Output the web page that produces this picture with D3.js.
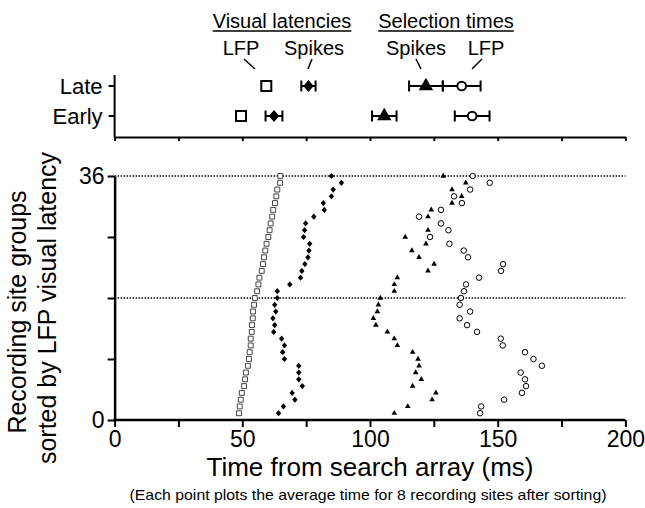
<!DOCTYPE html>
<html>
<head>
<meta charset="utf-8">
<script src="https://cdn.jsdelivr.net/npm/d3@7/dist/d3.min.js"></script>
<style>
body { margin: 0; background: #fff; }
text { font-family: "Liberation Sans", Arial, sans-serif; fill: #000; }
</style>
</head>
<body>
<svg></svg>
<script>
// recording site groups, 1 = bottom (earliest LFP latency), 36 = top
let groups = d3.range(1, 37)

// times in ms, one value per group
let lfpLatency = [48.7, 49.0, 49.4, 49.8, 50.7, 51.1, 51.4, 52.2, 52.6, 52.9, 53.3, 53.3,
                  53.7, 53.8, 54.1, 54.2, 54.6, 54.9, 55.8, 56.3, 56.7, 57.6, 58.1, 58.5,
                  59.0, 59.5, 60.2, 60.7, 61.1, 61.7, 62.1, 62.8, 63.3, 63.7, 64.8, 64.9]
let spikeLatency = [64.2, 66.1, 70.6, 69.5, 73.5, 72.1, 72.1, 72.1, 66.5, 65.8, 66.5, 65.4,
                    62.3, 62.7, 62.0, 63.1, 62.7, 63.7, 63.7, 68.6, 72.8, 73.3, 74.5, 75.7,
                    76.1, 76.4, 74.0, 74.4, 74.8, 78.0, 82.1, 81.7, 84.9, 85.6, 88.8, 84.9]
let spikeSelection = [109.5, 114.8, 124.3, 125.8, 116.7, 120.1, 117.9, 119.2, 118.8, 116.7, 110.7, 109.5,
                      106.8, 102.3, 101.3, 102.9, 103.3, 104.0, 109.5, 109.5, 110.7, 122.7, 125.1, 119.2,
                      116.4, 121.9, 113.8, 122.7, 127.7, 122.7, 124.0, 132.1, 135.9, 132.1, 137.5, 128.7]
let lfpSelection = [143.1, 143.5, 152.5, 159.5, 161.1, 160.7, 159.0, 167.3, 164.0, 160.7, 152.0, 151.2,
                    141.9, 138.0, 135.1, 139.2, 135.1, 135.6, 136.8, 137.6, 142.7, 151.3, 152.1, 138.4,
                    136.7, 131.1, 123.5, 130.7, 127.8, 119.2, 127.8, 136.0, 132.9, 139.2, 146.9, 140.2]

// summary panel: mean and error (ms) for late and early halves
let summaryRows = ['Late', 'Early']
let lfpLatMean = [59.4, 49.5]
let lfpLatErr = [1.0, 1.0]
let spikeLatMean = [75.9, 62.4]
let spikeLatErr = [2.8, 3.3]
let spikeSelMean = [121.9, 105.6]
let spikeSelErr = [6.6, 4.8]
let lfpSelMean = [135.9, 140.0]
let lfpSelErr = [7.4, 6.8]

let xTicks = d3.range(0, 201, 25)
let yTicks = [0, 9, 18, 27, 36]
let dottedLevels = [18, 36]

let width = 645
let height = 508

let svg = d3.select('svg').attr('width', width).attr('height', height)

let xScale = d3.scaleLinear().domain([0, 200]).range([114.6, 625.4])
let yScale = d3.scaleLinear().domain([0, 36]).range([420, 176])
let rowScale = d3.scalePoint().domain(summaryRows).range([86, 116])

// simple diamond shape (d3's diamond is too narrow)
let wideDiamond = {
    draw: (ctx, size) => {
        let r = Math.sqrt(size / 2)
        ctx.moveTo(0, -r * 1.1)
        ctx.lineTo(r * 0.95, 0)
        ctx.lineTo(0, r * 1.1)
        ctx.lineTo(-r * 0.95, 0)
        ctx.closePath()
    }
}

// ---------- main panel ----------
let mainAxes = () => {
    let xAxis = d3.axisBottom(xScale)
        .tickValues(xTicks)
        .tickFormat(d => d % 50 === 0 ? d : '')
        .tickSize(7)
        .tickSizeOuter(0)
        .tickPadding(4)
    let gx = svg.append('g')
        .attr('transform', 'translate(0,' + yScale(0) + ')')
        .call(xAxis)
    gx.select('.domain').attr('stroke-width', 2.5).attr('d', 'M' + (xScale(0) - 1.2) + ',0H' + xScale(200))
    gx.selectAll('.tick line').attr('stroke-width', 2)
    gx.selectAll('text').style('font-size', '23px').attr('fill', '#000')

    let yAxis = d3.axisLeft(yScale)
        .tickValues(yTicks)
        .tickFormat(d => (d === 0 || d === 36) ? d : '')
        .tickSize(7)
        .tickSizeOuter(0)
        .tickPadding(3)
    let gy = svg.append('g')
        .attr('transform', 'translate(' + xScale(0) + ',0)')
        .call(yAxis)
    gy.select('.domain').attr('stroke-width', 2.5)
    gy.selectAll('.tick line').attr('stroke-width', 2)
    gy.selectAll('text').style('font-size', '23px').attr('fill', '#000')
}

let drawDotted = () => {
    svg.selectAll('line.dotted')
        .data(dottedLevels)
        .enter()
        .append('line')
        .attr('class', 'dotted')
        .attr('x1', xScale(0))
        .attr('x2', xScale(200))
        .attr('y1', d => yScale(d))
        .attr('y2', d => yScale(d))
        .attr('stroke', '#000')
        .attr('stroke-width', 1.5)
        .attr('stroke-dasharray', '1.5,1.5')
}

let drawSeries = (values, type, size, fill, stroke, sw, cls) => {
    svg.selectAll('path.' + cls)
        .data(values)
        .enter()
        .append('path')
        .attr('class', cls)
        .attr('d', d3.symbol().type(type).size(size))
        .attr('transform', (d, i) => 'translate(' + xScale(d) + ',' + yScale(groups[i]) + ')')
        .attr('fill', fill)
        .attr('stroke', stroke)
        .attr('stroke-width', sw)
}

// ---------- summary panel ----------
let summaryPanel = () => {
    let top = 75
    let bottom = 137
    svg.append('line')
        .attr('x1', xScale(0)).attr('x2', xScale(0))
        .attr('y1', top).attr('y2', bottom)
        .attr('stroke', '#000').attr('stroke-width', 2)

    let xAxisTop = d3.axisBottom(xScale)
        .tickValues(xTicks)
        .tickFormat('')
        .tickSize(4)
        .tickSizeOuter(0)
    let gt = svg.append('g')
        .attr('transform', 'translate(0,' + bottom + ')')
        .call(xAxisTop)
    gt.select('.domain').attr('stroke-width', 2)
    gt.selectAll('.tick line').attr('stroke-width', 2)

    svg.selectAll('line.rowtick')
        .data(summaryRows)
        .enter()
        .append('line')
        .attr('class', 'rowtick')
        .attr('x1', xScale(0) - 6).attr('x2', xScale(0))
        .attr('y1', d => rowScale(d)).attr('y2', d => rowScale(d))
        .attr('stroke', '#000').attr('stroke-width', 2)

    svg.selectAll('text.rowlabel')
        .data(summaryRows)
        .enter()
        .append('text')
        .attr('class', 'rowlabel')
        .attr('x', xScale(0) - 12)
        .attr('y', d => rowScale(d) + 8)
        .attr('text-anchor', 'end')
        .style('font-size', '22px')
        .text(d => d)

    let sets = [
        { mean: lfpLatMean, err: lfpLatErr, type: d3.symbolSquare, size: 100, fill: '#fff', sw: 2 },
        { mean: spikeLatMean, err: spikeLatErr, type: wideDiamond, size: 60, fill: '#000', sw: 0 },
        { mean: spikeSelMean, err: spikeSelErr, type: d3.symbolTriangle, size: 90, fill: '#000', sw: 0 },
        { mean: lfpSelMean, err: lfpSelErr, type: d3.symbolCircle, size: 60, fill: '#fff', sw: 2 }
    ]

    sets.forEach((s, si) => {
        let g = svg.append('g').attr('class', 'set' + si)
        summaryRows.forEach((row, i) => {
            let y = rowScale(row)
            let lo = xScale(s.mean[i] - s.err[i])
            let hi = xScale(s.mean[i] + s.err[i])
            g.append('line').attr('x1', lo).attr('x2', hi).attr('y1', y).attr('y2', y)
                .attr('stroke', '#000').attr('stroke-width', 2)
            g.append('line').attr('x1', lo).attr('x2', lo).attr('y1', y - 5.5).attr('y2', y + 5.5)
                .attr('stroke', '#000').attr('stroke-width', 2)
            g.append('line').attr('x1', hi).attr('x2', hi).attr('y1', y - 5.5).attr('y2', y + 5.5)
                .attr('stroke', '#000').attr('stroke-width', 2)
            g.append('path')
                .attr('d', d3.symbol().type(s.type).size(s.size))
                .attr('transform', 'translate(' + xScale(s.mean[i]) + ',' + y + ')')
                .attr('fill', s.fill)
                .attr('stroke', '#000')
                .attr('stroke-width', s.sw)
        })
    })

    // headings with underline
    let headings = [
        { label: 'Visual latencies', x: 282 },
        { label: 'Selection times', x: 446 }
    ]
    headings.forEach(h => {
        let t = svg.append('text')
            .attr('x', h.x).attr('y', 28)
            .attr('text-anchor', 'middle')
            .style('font-size', '20px')
            .text(h.label)
        let w = t.node().getComputedTextLength()
        svg.append('line')
            .attr('x1', h.x - w / 2).attr('x2', h.x + w / 2)
            .attr('y1', 31).attr('y2', 31)
            .attr('stroke', '#000').attr('stroke-width', 1.3)
    })

    let subLabels = [
        { label: 'LFP', x: 241, lx1: 244, ly1: 59, lx2: 255, ly2: 69 },
        { label: 'Spikes', x: 314, lx1: 312, ly1: 59, lx2: 308, ly2: 69 },
        { label: 'Spikes', x: 416, lx1: 416, ly1: 59, lx2: 421, ly2: 69 },
        { label: 'LFP', x: 486, lx1: 482, ly1: 59, lx2: 472, ly2: 69 }
    ]
    subLabels.forEach(s => {
        svg.append('text')
            .attr('x', s.x).attr('y', 55)
            .attr('text-anchor', 'middle')
            .style('font-size', '20px')
            .text(s.label)
        svg.append('line')
            .attr('x1', s.lx1).attr('y1', s.ly1)
            .attr('x2', s.lx2).attr('y2', s.ly2)
            .attr('stroke', '#000').attr('stroke-width', 1.5)
    })
}

let titles = () => {
    svg.append('text')
        .attr('x', 370).attr('y', 476)
        .attr('text-anchor', 'middle')
        .style('font-size', '26px')
        .text('Time from search array (ms)')

    svg.append('text')
        .attr('x', 368).attr('y', 500)
        .attr('text-anchor', 'middle')
        .attr('textLength', 477)
        .attr('lengthAdjust', 'spacingAndGlyphs')
        .style('font-size', '15px')
        .text('(Each point plots the average time for 8 recording sites after sorting)')

    svg.append('text')
        .attr('transform', 'translate(26,312) rotate(-90)')
        .attr('text-anchor', 'middle')
        .style('font-size', '25px')
        .text('Recording site groups')

    svg.append('text')
        .attr('transform', 'translate(56,308) rotate(-90)')
        .attr('text-anchor', 'middle')
        .style('font-size', '25px')
        .text('sorted by LFP visual latency')
}

drawDotted()
drawSeries(lfpLatency, d3.symbolSquare, 24, '#fff', '#444', 1, 'sq')
drawSeries(spikeLatency, wideDiamond, 16, '#000', 'none', 0, 'dm')
drawSeries(spikeSelection, d3.symbolTriangle, 14, '#000', 'none', 0, 'tr')
drawSeries(lfpSelection, d3.symbolCircle, 24, '#fff', '#000', 1, 'ci')
mainAxes()
summaryPanel()
titles()
</script>
</body>
</html>
